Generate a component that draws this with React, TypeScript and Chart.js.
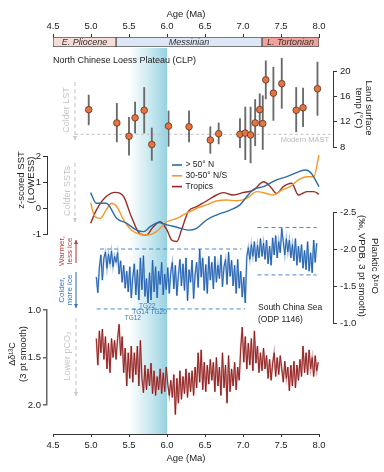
import React, { useEffect, useRef } from "react";
import { Chart, registerables } from "chart.js";

Chart.register(...registerables);

const W = 384;
const H = 472;
const FONT = '"Liberation Sans", Arial, Helvetica, sans-serif';

// ---------------- data ----------------
const AGE_MIN = 4.5;
const AGE_MAX = 8;
const AGE_STEP = 0.5;

const EPOCH_NAMES = ["E. Pliocene", "Messinian", "L. Tortonian"];
const EPOCH_START = [4.5, 5.33, 7.25];
const EPOCH_END = [5.33, 7.25, 8.0];

const BAND_FROM = 5.5;
const BAND_TO = 6.0;

const LST_AGE = [4.97, 5.34, 5.5, 5.58, 5.7, 5.8, 6.02, 6.29, 6.57, 6.68, 6.96, 7.03, 7.1, 7.16, 7.22, 7.26, 7.3, 7.4, 7.51, 7.7, 7.79, 7.98];
const LST_TEMP = [13.9, 11.8, 9.7, 12.6, 13.8, 8.4, 11.3, 11.2, 9.1, 10.1, 10.0, 10.2, 9.9, 11.8, 13.9, 11.7, 18.6, 16.5, 18.0, 13.8, 14.2, 17.2];
const LST_LOW = [11.5, 8.8, 6.7, 10.2, 10.2, 5.9, 8.1, 8.8, 7.0, 8.5, 7.9, 6.0, 5.5, 8.2, 11.3, 7.6, 15.6, 12.2, 14.1, 10.4, 11.2, 13.0];
const LST_HIGH = [16.2, 14.9, 12.7, 15.1, 17.4, 11.0, 13.7, 13.7, 11.2, 11.8, 12.5, 14.3, 14.3, 15.5, 16.4, 16.1, 21.6, 20.6, 22.0, 17.4, 17.3, 21.4];
const MAST_TEMP = 10;
const MAST_FROM = 4.79;

const SST_HIGHLAT = [[4.995, 0.59], [5.07, 0.18], [5.2, 0.18], [5.34, -0.4], [5.47, -0.59], [5.6, -0.85], [5.69, -0.91], [5.78, -0.72], [5.89, -0.56], [6.0, -0.65], [6.13, -0.74], [6.28, -0.85], [6.39, -0.78], [6.52, -0.46], [6.65, -0.27], [6.83, -0.08], [6.96, 0.12], [7.05, 0.44], [7.14, 0.72], [7.27, 0.82], [7.44, 1.08], [7.57, 1.2], [7.68, 1.33], [7.82, 1.46], [7.9, 1.33], [8.0, 0.82]];
const SST_MIDLAT = [[4.995, 0.2], [5.05, -0.33], [5.12, -0.4], [5.2, -0.08], [5.27, 0.18], [5.34, 0.05], [5.43, -0.46], [5.53, -0.85], [5.65, -1.01], [5.75, -1.04], [5.86, -0.91], [6.0, -0.53], [6.13, -0.4], [6.26, -0.2], [6.39, -0.01], [6.52, 0.12], [6.65, 0.27], [6.79, 0.31], [6.92, 0.28], [7.05, 0.37], [7.18, 0.63], [7.31, 0.56], [7.4, 0.5], [7.51, 0.69], [7.62, 0.82], [7.73, 1.08], [7.84, 1.2], [7.93, 1.2], [8.0, 2.04]];
const SST_TROPICS = [[4.995, -0.59], [5.07, -0.08], [5.2, 0.44], [5.32, 0.6], [5.43, 0.44], [5.53, -0.33], [5.65, -1.01], [5.73, -1.04], [5.82, -0.72], [5.91, -0.53], [6.0, -0.85], [6.06, -1.23], [6.13, -1.29], [6.19, -0.85], [6.28, -0.14], [6.39, 0.05], [6.52, 0.27], [6.65, 0.5], [6.74, 0.59], [6.87, 0.5], [7.0, 0.59], [7.14, 0.69], [7.27, 1.01], [7.36, 0.82], [7.44, 0.56], [7.53, 0.82], [7.64, 0.95], [7.73, 0.5], [7.84, 0.63], [7.93, 0.63], [8.0, 0.53]];
const SST_LABELS = ["> 50\u00b0 N", "30-50\u00b0 N/S", "Tropics"];

const O18 = [
  [5.07, -1.62], [5.09, -1.41], [5.11, -1.75], [5.13, -1.92], [5.15, -1.58], [5.17, -1.88], [5.19, -1.96], [5.21, -1.74], [5.23, -1.93], [5.25, -1.8],
  [5.27, -1.97], [5.29, -1.76], [5.31, -1.9], [5.33, -1.82], [5.35, -1.95], [5.37, -1.66], [5.39, -1.84], [5.41, -1.55], [5.43, -1.78], [5.45, -1.47],
  [5.47, -1.7], [5.49, -1.42], [5.51, -1.76], [5.53, -1.34], [5.55, -1.62], [5.57, -1.8], [5.59, -1.38], [5.61, -1.72], [5.63, -1.31], [5.65, -1.88],
  [5.67, -1.45], [5.69, -1.91], [5.71, -1.36], [5.73, -1.6], [5.75, -1.27], [5.77, -1.68], [5.79, -1.31], [5.81, -1.85], [5.83, -1.42], [5.85, -1.76],
  [5.87, -1.34], [5.89, -1.7], [5.91, -1.52], [5.93, -1.82], [5.95, -1.38], [5.97, -1.66], [5.99, -1.45], [6.01, -1.75], [6.03, -1.4], [6.05, -1.69],
  [6.07, -1.82], [6.09, -1.46], [6.11, -1.78], [6.13, -1.37], [6.15, -1.64], [6.17, -1.86], [6.19, -1.5], [6.21, -1.8], [6.23, -1.44], [6.25, -1.88],
  [6.27, -1.3], [6.29, -1.72], [6.31, -1.55], [6.33, -1.85], [6.35, -1.33], [6.37, -1.66], [6.39, -1.82], [6.41, -1.48], [6.43, -2.0], [6.45, -1.62],
  [6.47, -1.88], [6.49, -1.44], [6.51, -1.79], [6.53, -1.4], [6.55, -1.9], [6.57, -1.58], [6.59, -1.82], [6.61, -1.46], [6.63, -1.9], [6.65, -1.55],
  [6.67, -1.78], [6.69, -1.6], [6.71, -1.92], [6.73, -1.49], [6.75, -1.76], [6.77, -1.86], [6.79, -1.52], [6.81, -1.96], [6.83, -1.63], [6.85, -1.85],
  [6.87, -1.5], [6.89, -1.78], [6.91, -1.4], [6.93, -1.86], [6.95, -1.47], [6.97, -1.7], [6.99, -1.35], [7.01, -1.62], [7.03, -1.27], [7.05, -1.9],
  [7.07, -2.02], [7.09, -1.86], [7.11, -2.06], [7.13, -1.9], [7.15, -2.1], [7.17, -1.83], [7.19, -2.05], [7.21, -1.88], [7.23, -2.14], [7.25, -1.9],
  [7.27, -2.08], [7.29, -1.86], [7.31, -2.12], [7.33, -1.8], [7.35, -2.04], [7.37, -1.78], [7.39, -2.15], [7.41, -1.92], [7.43, -2.18], [7.45, -1.88],
  [7.47, -2.1], [7.49, -1.95], [7.51, -2.28], [7.53, -2.1], [7.55, -1.92], [7.57, -2.14], [7.59, -1.96], [7.61, -2.12], [7.63, -1.88], [7.65, -2.06],
  [7.67, -1.84], [7.69, -2.14], [7.71, -1.78], [7.73, -2.04], [7.75, -1.82], [7.77, -2.06], [7.79, -1.74], [7.81, -1.98], [7.83, -1.72], [7.85, -2.1],
  [7.87, -1.7], [7.89, -1.95], [7.91, -1.68], [7.93, -2.12], [7.95, -1.82], [7.97, -2.08],
];
const O18_REF_FROM = [5.12, 5.075, 7.19, 7.19];
const O18_REF_TO = [6.98, 7.03, 7.97, 7.97];
const O18_REF_VAL = [-2.0, -1.19, -2.29, -1.65];
const TG_NAMES = ["TG12", "TG14", "TG22", "TG20"];
const TG_AGE = [5.55, 5.65, 5.74, 5.89];
const TG_VAL = [-1.07, -1.14, -1.23, -1.14];

const C13 = [
  [5.07, 1.3], [5.09, 1.58], [5.11, 1.22], [5.13, 1.45], [5.15, 1.2], [5.17, 1.52], [5.19, 1.28], [5.21, 1.62], [5.23, 1.35], [5.25, 1.66],
  [5.27, 1.3], [5.29, 1.5], [5.31, 1.32], [5.33, 1.52], [5.35, 1.3], [5.37, 1.15], [5.39, 1.48], [5.41, 1.28], [5.43, 1.66], [5.45, 1.4],
  [5.47, 1.8], [5.49, 1.45], [5.51, 1.72], [5.53, 1.38], [5.55, 1.76], [5.57, 1.45], [5.59, 1.68], [5.61, 1.38], [5.63, 1.8], [5.65, 1.32],
  [5.67, 1.72], [5.69, 1.87], [5.71, 1.58], [5.73, 1.84], [5.75, 1.62], [5.77, 1.8], [5.79, 1.56], [5.81, 1.88], [5.83, 1.64], [5.85, 1.9],
  [5.87, 1.7], [5.89, 1.84], [5.91, 1.62], [5.93, 1.88], [5.95, 1.66], [5.97, 1.86], [5.99, 1.6], [6.01, 1.78], [6.03, 1.9], [6.05, 1.74],
  [6.07, 1.92], [6.09, 1.68], [6.11, 2.1], [6.13, 1.72], [6.15, 1.98], [6.17, 1.64], [6.19, 1.94], [6.21, 1.7], [6.23, 1.88], [6.25, 1.62],
  [6.27, 1.92], [6.29, 1.66], [6.31, 1.86], [6.33, 1.64], [6.35, 1.9], [6.37, 1.6], [6.39, 1.82], [6.41, 1.45], [6.43, 1.76], [6.45, 1.42],
  [6.47, 1.84], [6.49, 1.55], [6.51, 1.86], [6.53, 1.58], [6.55, 1.78], [6.57, 1.52], [6.59, 1.74], [6.61, 1.55], [6.63, 1.86], [6.65, 1.5],
  [6.67, 1.8], [6.69, 1.6], [6.71, 1.9], [6.73, 1.45], [6.75, 1.82], [6.77, 1.58], [6.79, 1.98], [6.81, 1.48], [6.83, 1.86], [6.85, 1.62],
  [6.87, 1.8], [6.89, 1.55], [6.91, 1.84], [6.93, 1.6], [6.95, 1.74], [6.97, 1.4], [6.99, 1.18], [7.01, 1.55], [7.03, 1.28], [7.05, 1.62],
  [7.07, 1.35], [7.09, 1.58], [7.11, 1.3], [7.13, 1.64], [7.15, 1.22], [7.17, 1.56], [7.19, 1.38], [7.21, 1.66], [7.23, 1.45], [7.25, 1.64],
  [7.27, 1.4], [7.29, 1.62], [7.31, 1.48], [7.33, 1.72], [7.35, 1.52], [7.37, 1.74], [7.39, 1.56], [7.41, 1.45], [7.43, 1.7], [7.45, 1.5],
  [7.47, 1.68], [7.49, 1.48], [7.51, 1.62], [7.53, 1.76], [7.55, 1.54], [7.57, 1.72], [7.59, 1.6], [7.61, 1.85], [7.63, 1.58], [7.65, 1.8],
  [7.67, 1.54], [7.69, 1.82], [7.71, 1.58], [7.73, 1.74], [7.75, 1.52], [7.77, 1.7], [7.79, 1.38], [7.81, 1.66], [7.83, 1.45], [7.85, 1.68],
  [7.87, 1.42], [7.89, 1.62], [7.91, 1.5], [7.93, 1.7], [7.95, 1.48], [7.97, 1.64], [7.99, 1.55],
];

// ---------------- layout ----------------
const PLOT_L = 53;
const PLOT_R = 319;
const AXIS_L = 47;
const AXIS_R = 333;
const TOP_AXIS_H = 37;
const BOTTOM_AXIS_Y = 434;
const EPOCH_H = 10;
const PX = (PLOT_R - PLOT_L) / (AGE_MAX - AGE_MIN);
const X0 = AGE_MIN - (PLOT_L - AXIS_L) / PX;
const X1 = AGE_MAX + (AXIS_R - PLOT_R) / PX;

const f = (size: number, style = "") => `${style} ${size}px ${FONT}`.trim();

function text(ctx: any, s: string, x: number, y: number, opt: any = {}) {
  ctx.save();
  ctx.translate(x, y);
  if (opt.rot) ctx.rotate(opt.rot);
  ctx.font = f(opt.size || 9, opt.style || "");
  ctx.fillStyle = opt.color || "#222";
  ctx.textAlign = opt.align || "center";
  ctx.textBaseline = "middle";
  ctx.fillText(s, 0, 0);
  ctx.restore();
}

function arrow(ctx: any, x: number, y1: number, y2: number, color: string, dashed: boolean) {
  ctx.save();
  ctx.strokeStyle = color;
  ctx.fillStyle = color;
  ctx.lineWidth = 1.1;
  if (dashed) ctx.setLineDash([4, 3]);
  ctx.beginPath();
  ctx.moveTo(x, y1);
  ctx.lineTo(x, y2);
  ctx.stroke();
  ctx.setLineDash([]);
  const d = Math.sign(y2 - y1);
  ctx.beginPath();
  ctx.moveTo(x - 2, y2 - d * 4);
  ctx.lineTo(x, y2);
  ctx.lineTo(x + 2, y2 - d * 4);
  ctx.closePath();
  ctx.fill();
  ctx.restore();
}

const UP = -Math.PI / 2;
const DOWN = Math.PI / 2;

const framePlugin = {
  id: "frame",
  beforeDraw(chart: any) {
    const { ctx, chartArea } = chart;
    const xs = chart.scales.x;
    const a = xs.getPixelForValue(BAND_FROM);
    const b = xs.getPixelForValue(BAND_TO);
    const top = chartArea.top + EPOCH_H + 1;
    const g = ctx.createLinearGradient(a, 0, b, 0);
    g.addColorStop(0, "rgba(168,218,230,0)");
    g.addColorStop(0.45, "rgba(168,218,230,0.5)");
    g.addColorStop(1, "rgba(150,210,224,1)");
    ctx.save();
    ctx.fillStyle = g;
    ctx.fillRect(a, top, b - a, chartArea.bottom - top);
    ctx.restore();
  },
  afterDraw(chart: any) {
    const ctx = chart.ctx;
    text(ctx, "North Chinese Loess Plateau (CLP)", PLOT_L, 61, { align: "left", size: 9 });
    // right titles
    text(ctx, "Land surface", 369, 108, { rot: DOWN, size: 9.5 });
    text(ctx, "temp (\u00b0C)", 359, 108, { rot: DOWN, size: 9.5 });
    text(ctx, "Planktic \u03b4\u00b9\u2078O", 375, 266, { rot: DOWN, size: 9.5 });
    text(ctx, "(\u2030, VPDB, 3 pt smooth)", 362, 266, { rot: DOWN, size: 9.5 });
    // left titles
    text(ctx, "z-scored SST", 21.5, 180, { rot: UP, size: 9.5 });
    text(ctx, "(LOWESS)", 31.5, 180, { rot: UP, size: 9.5 });
    text(ctx, "\u0394\u03b4\u00b9\u00b3C", 13, 354, { rot: UP, size: 9 });
    text(ctx, "(3 pt smooth)", 23, 354, { rot: UP, size: 9.5 });
    // direction hints
    const grey = "#c6c6c6";
    text(ctx, "Colder LST", 67, 110, { rot: UP, size: 9, color: grey });
    arrow(ctx, 75, 82, 140, grey, true);
    text(ctx, "Colder SSTs", 68, 191, { rot: UP, size: 9, color: grey });
    arrow(ctx, 75, 163, 222, grey, true);
    const red = "#b04444";
    text(ctx, "Warmer,", 62, 251, { rot: UP, size: 8, color: red });
    text(ctx, "less ice", 70, 251, { rot: UP, size: 8, color: red });
    arrow(ctx, 76, 263, 240, red, false);
    const blue = "#3a74c4";
    text(ctx, "Colder,", 62, 290, { rot: UP, size: 8, color: blue });
    text(ctx, "more ice", 70, 290, { rot: UP, size: 8, color: blue });
    arrow(ctx, 76, 272, 308, blue, false);
    text(ctx, "Lower pCO\u2082", 68, 356, { rot: UP, size: 9, color: grey });
    arrow(ctx, 76, 318, 396, grey, true);
    text(ctx, "Modern MAST", 329, 139.5, { align: "right", size: 7.5, color: "#bbbbbb" });
    text(ctx, "South China Sea", 258, 308, { align: "left", size: 8.5 });
    text(ctx, "(ODP 1146)", 258, 320, { align: "left", size: 8.5 });
  },
};

const epochLabelPlugin = {
  id: "epochLabels",
  afterDatasetsDraw(chart: any) {
    const ctx = chart.ctx;
    chart.data.datasets.forEach((ds: any, i: number) => {
      const el: any = chart.getDatasetMeta(i).data[0];
      if (!el) return;
      const p = el.getProps(["x", "y", "base"], true);
      text(ctx, ds.label, (p.x + p.base) / 2, p.y, { size: 9, style: "italic", color: "#333" });
    });
  },
};

const sstLegendPlugin = {
  id: "sstLegend",
  afterDraw(chart: any) {
    const ctx = chart.ctx;
    chart.data.datasets.forEach((ds: any, i: number) => {
      const y = 165 + i * 10.8;
      ctx.save();
      ctx.strokeStyle = ds.borderColor;
      ctx.lineWidth = 1.6;
      ctx.beginPath();
      ctx.moveTo(172, y);
      ctx.lineTo(182, y);
      ctx.stroke();
      ctx.restore();
      text(ctx, ds.label, 185.5, y, { align: "left", size: 8.5 });
    });
  },
};

const tgPlugin = {
  id: "tgLabels",
  afterDraw(chart: any) {
    const { ctx, scales } = chart;
    TG_NAMES.forEach((n, i) => {
      text(ctx, n, scales.x.getPixelForValue(TG_AGE[i]), scales.y.getPixelForValue(TG_VAL[i]), { size: 6.5, color: "#3a78c0" });
    });
  },
};

function baseOpts(padding: any, scales: any) {
  return {
    responsive: false,
    animation: false,
    events: [],
    layout: { padding },
    plugins: { legend: { display: false }, tooltip: { enabled: false }, title: { display: false } },
    scales,
  };
}

function xAxis(pos: "top" | "bottom") {
  return {
    type: "linear",
    position: pos,
    min: AGE_MIN,
    max: AGE_MAX,
    offset: false,
    afterFit: (s: any) => {
      s.height = pos === "top" ? TOP_AXIS_H : H - BOTTOM_AXIS_Y;
    },
    grid: { drawOnChartArea: false, tickLength: 3, color: "#333", offset: false },
    border: { color: "#333", width: 1 },
    ticks: { stepSize: AGE_STEP, autoSkip: false, maxRotation: 0, color: "#222", padding: pos === "top" ? 1.5 : 3, font: { family: FONT, size: 9.5 } },
    title: { display: true, text: "Age (Ma)", color: "#222", font: { family: FONT, size: 9.5 }, padding: pos === "top" ? { top: 8.5, bottom: 0 } : { top: 0, bottom: 7.5 } },
  };
}

function yAxis(side: "left" | "right", min: number, max: number, step: number, reverse: boolean, decimals: number, color = "#333", width = 1) {
  return {
    type: "linear",
    position: side,
    min,
    max,
    reverse,
    offset: false,
    afterFit: (s: any) => {
      s.width = side === "left" ? AXIS_L : W - AXIS_R;
    },
    grid: { drawOnChartArea: false, tickLength: 4, color, lineWidth: width, offset: false },
    border: { display: true, color, width },
    ticks: {
      stepSize: step,
      color: "#222",
      padding: side === "left" ? 2 : 3,
      font: { family: FONT, size: 9.5 },
      callback: (v: any) => (decimals ? Number(v).toFixed(decimals) : String(v)),
    },
  };
}

function panelPadding(side: "left" | "right", top: number, bottom: number) {
  return side === "left"
    ? { left: 0, right: W - AXIS_R, top, bottom: H - bottom }
    : { left: AXIS_L, right: 0, top, bottom: H - bottom };
}

const hiddenX = { type: "linear", min: X0, max: X1, display: false, offset: false, grid: { offset: false } };
const pts = (arr: number[][]) => arr.map(([x, y]) => ({ x, y }));

function makeConfigs(): any[] {
  const frame = {
    type: "scatter",
    data: { datasets: [] },
    options: baseOpts({ left: PLOT_L, right: W - PLOT_R, top: 0, bottom: 0 }, {
      x: xAxis("bottom"),
      xTop: xAxis("top"),
      y: { type: "linear", display: false, min: 0, max: 1 },
    }),
    plugins: [framePlugin],
  };

  const epochFill = ["#f6dcd7", "#dde6f4", "#f2a29a"];
  const epoch = {
    type: "bar",
    data: {
      labels: ["epoch"],
      datasets: EPOCH_NAMES.map((n, i) => ({
        label: n,
        data: [[EPOCH_START[i], EPOCH_END[i]]],
        backgroundColor: epochFill[i],
        borderColor: "#555",
        borderWidth: 1,
        borderSkipped: false,
        barPercentage: 1,
        categoryPercentage: 1,
        grouped: false,
      })),
    },
    options: {
      ...baseOpts({ left: PLOT_L, right: W - PLOT_R, top: TOP_AXIS_H, bottom: H - TOP_AXIS_H - EPOCH_H }, {
        x: { type: "linear", min: AGE_MIN, max: AGE_MAX, display: false },
        y: { display: false },
      }),
      indexAxis: "y",
    },
    plugins: [epochLabelPlugin],
  };

  const lst = {
    type: "scatter",
    data: {
      datasets: [
        {
          type: "scatter",
          label: "LST",
          data: LST_AGE.map((a, i) => ({ x: a, y: LST_TEMP[i] })),
          pointRadius: 3.3,
          pointBackgroundColor: "#e8733f",
          pointBorderColor: "#5b3322",
          pointBorderWidth: 0.8,
          clip: false,
          order: 0,
        },
        {
          type: "bar",
          label: "range",
          data: LST_AGE.map((a, i) => ({ x: a, y: [LST_LOW[i], LST_HIGH[i]] })),
          backgroundColor: "#6a6a6a",
          barThickness: 1.2,
          clip: false,
          order: 1,
        },
        {
          type: "line",
          label: "Modern MAST",
          data: [{ x: MAST_FROM, y: MAST_TEMP }, { x: X1, y: MAST_TEMP }],
          borderColor: "#c4c4c4",
          borderDash: [3, 2.5],
          borderWidth: 1,
          pointRadius: 0,
          showLine: true,
          order: 2,
        },
      ],
    },
    options: baseOpts(panelPadding("right", 71, 147), { x: hiddenX, y: yAxis("right", 8, 20, 4, false, 0) }),
  };

  const sstColors = ["#2d6ca5", "#f39a2b", "#9a2a24"];
  const sst = {
    type: "line",
    data: {
      datasets: [SST_HIGHLAT, SST_MIDLAT, SST_TROPICS].map((s, i) => ({
        label: SST_LABELS[i],
        data: pts(s),
        borderColor: sstColors[i],
        borderWidth: 1.4,
        pointRadius: 0,
        cubicInterpolationMode: "monotone",
        clip: false,
      })),
    },
    options: baseOpts(panelPadding("left", 156, 234), { x: hiddenX, y: yAxis("left", -1, 2, 1, false, 0) }),
    plugins: [sstLegendPlugin],
  };

  const o18 = {
    type: "line",
    data: {
      datasets: [
        { label: "d18O", data: pts(O18), borderColor: "#1d5aa8", borderWidth: 0.9, pointRadius: 0, clip: false },
        { label: "d18O halo", data: pts(O18), borderColor: "rgba(125,170,226,0.75)", borderWidth: 1.8, pointRadius: 0, clip: false },
        ...O18_REF_VAL.map((v, i) => ({
          label: "ref" + i,
          data: [{ x: O18_REF_FROM[i], y: v }, { x: O18_REF_TO[i], y: v }],
          borderColor: "#4a88cc",
          borderDash: [4, 3],
          borderWidth: 1,
          pointRadius: 0,
        })),
      ],
    },
    options: baseOpts(panelPadding("right", 212, 323), { x: hiddenX, y: yAxis("right", -2.5, -1.0, 0.5, true, 1) }),
    plugins: [tgPlugin],
  };

  const c13 = {
    type: "line",
    data: {
      datasets: [
        { label: "d13C", data: pts(C13), borderColor: "#8a1a1a", borderWidth: 0.9, pointRadius: 0, clip: false },
        { label: "d13C halo", data: pts(C13), borderColor: "rgba(208,130,130,0.75)", borderWidth: 1.8, pointRadius: 0, clip: false },
      ],
    },
    options: baseOpts(panelPadding("left", 310, 405), { x: hiddenX, y: yAxis("left", 1.0, 2.0, 0.5, true, 1, "#666", 1.5) }),
  };

  return [frame, epoch, lst, sst, o18, c13];
}

export default function App() {
  const canvases = useRef<(HTMLCanvasElement | null)[]>([]);
  useEffect(() => {
    const configs = makeConfigs();
    const charts = configs.map((cfg, i) => new Chart(canvases.current[i] as any, cfg as any));
    return () => charts.forEach((c) => c.destroy());
  }, []);
  return (
    <div style={{ position: "fixed", left: 0, top: 0, width: W, height: H, background: "#fff", overflow: "hidden" }}>
      {[0, 1, 2, 3, 4, 5].map((i) => (
        <canvas
          key={i}
          ref={(el) => {
            canvases.current[i] = el;
          }}
          width={W}
          height={H}
          style={{ position: "absolute", left: 0, top: 0, width: W, height: H }}
        />
      ))}
    </div>
  );
}
